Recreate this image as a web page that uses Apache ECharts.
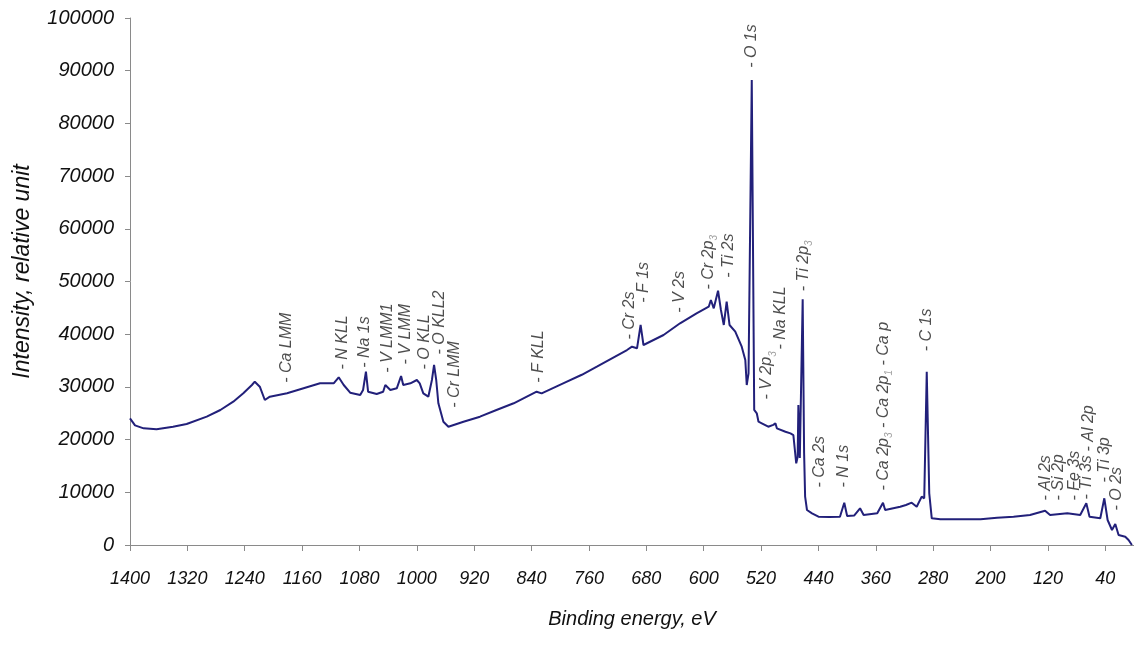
<!DOCTYPE html>
<html><head><meta charset="utf-8">
<script src="https://cdn.jsdelivr.net/npm/echarts@6/dist/echarts.min.js"></script>
<style>html,body{margin:0;padding:0;background:#fff}#c{width:1134px;height:661px}</style>
</head><body><div id="c"></div>
<script>
// Spectrum: binding energy (eV) and intensity
const energy = [1400,1393,1381,1363,1340,1321,1293,1274,1256,1242,1230,1226,1219,1212,1205,1181,1158,1135,1116,1109,1102,1093,1079,1075,1071,1068,1056,1047,1044,1037,1028,1022,1019,1009,1000,996,991,984,979,976,973,970,963,956,935,912,889,
  865,833,826,796,770,749,707,700,693,688,684,656,633,610,593,590,586,580,576,572,568,564,556,547,542,540,537.5,533,529.6,526,
  523.6,519,510,503,500,498,486,479,475,471,469,468,466,462,460,458.6,456,449,440,
  425,410,404,400,390,382,377,358,350,347,326,318,310,303,296,292.5,289,285.5,282,270,242,214,191,168,145,124,117,93,75,66.5,62,47,41.4,36.8,30.7,26.1,21.5,12.2,7.6,2.9];
const intensity = [24040,22700,22140,21950,22450,22960,24350,25620,27190,28780,30360,30990,30040,27510,28140,28780,29730,30680,30680,31820,30360,28900,28460,29410,32890,29090,28650,29090,30360,29410,29730,32070,30360,30680,31310,30680,28780,28140,31310,34160,31310,26890,23400,22450,23400,24350,25620,
  26890,29090,28780,30680,32300,33830,37000,37630,37320,41750,37950,39850,42070,43970,45220,46490,44910,48250,44590,41750,46170,41750,40500,37630,35100,30360,32580,88230,25620,24990,
  23400,23090,22450,22800,23090,22140,21500,21190,20870,15500,16760,26570,16500,46620,17400,9170,6640,6010,5370,
  5300,5370,8030,5500,5600,6960,5690,6010,8030,6640,7270,7600,8030,7270,9170,8860,32890,9810,5070,4900,4880,4880,5180,5370,5690,6510,5690,6010,5690,7910,5370,5070,8860,4740,2850,3980,1900,1580,950,0];

// Peak annotations: text, energy, intensity at the label's lower end
const peakNames = ['Ca LMM','N KLL','Na 1s','V LMM1','V LMM','O KLL','O KLL2','Cr LMM','F KLL','Cr 2s','F 1s','V 2s','Cr 2p{s|3}','Ti 2s','O 1s','V 2p{s|3}','Na KLL','Ti 2p{s|3}','Ca 2s','N 1s','Ca 2p{s|3} - Ca 2p{s|1} - Ca p','C 1s','Al 2s','Si 2p','Fe 3s','Ti 3s','Al 2p','Ti 3p','O 2s'];
const peakEnergy = [1181,1103,1072,1040,1015,988,968,947,829,703,683,633,593,565,533,511,492,460,438,405,349,289,122,104,82,65,62,40,23];
const peakLabelBase = [30680,33210,33530,32580,34160,33210,36050,25940,30680,38900,45860,43960,48390,50610,90450,27510,37000,48070,10820,10820,10250,36680,8350,8350,8350,8540,17650,11760,6450];

const xTicks = [1400,1320,1240,1160,1080,1000,920,840,760,680,600,520,440,360,280,200,120,40];

const AXIS = '#8a8a8a';
const chart = echarts.init(document.getElementById('c'));
chart.setOption({
  animation: false,
  backgroundColor: '#fff',
  grid: {left: 130, right: 0, top: 18, bottom: 116},
  xAxis: {
    type: 'value', min: 0, max: 1400, inverse: true,
    axisLine: {show: true, onZero: false, lineStyle: {color: AXIS, width: 1}},
    axisTick: {show: true, length: 6, customValues: xTicks, lineStyle: {color: AXIS}},
    axisLabel: {customValues: xTicks, margin: 25, fontFamily: 'Liberation Sans', fontStyle: 'italic', fontSize: 18, color: '#111', formatter: v => String(v)},
    splitLine: {show: false},
    name: 'Binding energy, eV', nameLocation: 'middle', nameGap: 64,
    nameTextStyle: {fontFamily: 'Liberation Sans', fontStyle: 'italic', fontSize: 20, color: '#111'}
  },
  yAxis: {
    type: 'value', min: 0, max: 100000, interval: 10000, position: 'left',
    axisLine: {show: true, onZero: false, lineStyle: {color: AXIS, width: 1}},
    axisTick: {show: true, length: 5, lineStyle: {color: AXIS}},
    axisLabel: {margin: 16, fontFamily: 'Liberation Sans', fontStyle: 'italic', fontSize: 20, color: '#111', formatter: v => String(v)},
    splitLine: {show: false},
    name: 'Intensity, relative unit', nameLocation: 'middle', nameGap: 96, nameRotate: 90,
    nameTextStyle: {fontFamily: 'Liberation Sans', fontStyle: 'italic', fontSize: 23, color: '#111', padding: [0, 0, 0, 20]}
  },
  series: [
    {
      type: 'line', data: energy.map((e, i) => [e, intensity[i]]),
      symbol: 'none', showSymbol: false,
      lineStyle: {color: '#22207a', width: 2}, clip: false, z: 3
    },
    {
      type: 'scatter', data: peakEnergy.map((e, i) => [e, peakLabelBase[i]]),
      symbolSize: 1, itemStyle: {color: 'rgba(0,0,0,0)'}, z: 4,
      label: {
        show: true, position: [0, 0], rotate: 90, align: 'left', verticalAlign: 'middle',
        fontFamily: 'Liberation Sans', fontStyle: 'italic', fontSize: 16, color: '#222', lineHeight: 22,
        formatter: p => '- ' + peakNames[p.dataIndex],
        rich: {s: {fontFamily: 'Liberation Sans', fontStyle: 'italic', fontSize: 10, color: '#8a8a8a', lineHeight: 10, verticalAlign: 'bottom'}}
      }
    }
  ]
});
</script></body></html>
